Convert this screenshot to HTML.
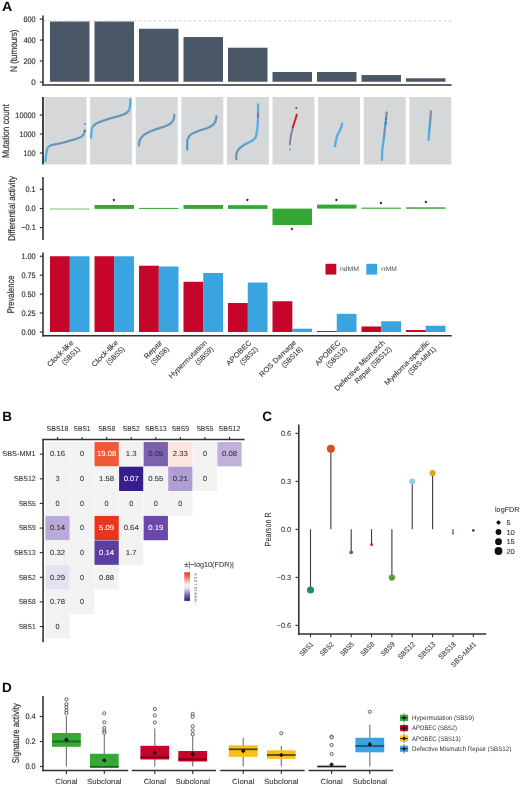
<!DOCTYPE html>
<html lang="en">
<head>
<meta charset="utf-8">
<title>Figure: mutational signatures</title>
<style>
html,body{margin:0;padding:0;background:#ffffff;}
body{width:520px;height:786px;overflow:hidden;}
svg{display:block;}
svg text{font-family:"Liberation Sans",sans-serif;}
</style>
</head>
<body>
<svg width="520" height="786" viewBox="0 0 520 786" text-rendering="geometricPrecision">
<rect x="0" y="0" width="520" height="786" fill="#ffffff"/>
<g fill="#333333">
<g id="panelA">
<text x="2.00" y="11.10" font-size="13.5" textLength="10.3" lengthAdjust="spacingAndGlyphs" fill="#0a0a0a" font-weight="bold">A</text>
<rect x="50.00" y="21.48" width="39.50" height="60.27" fill="#495767"/>
<rect x="94.50" y="21.48" width="39.50" height="60.27" fill="#495767"/>
<rect x="139.00" y="28.73" width="39.50" height="53.02" fill="#495767"/>
<rect x="183.50" y="37.02" width="39.50" height="44.73" fill="#495767"/>
<rect x="228.00" y="47.73" width="39.50" height="34.02" fill="#495767"/>
<rect x="272.50" y="71.98" width="39.50" height="9.76" fill="#495767"/>
<rect x="317.00" y="71.98" width="39.50" height="9.76" fill="#495767"/>
<rect x="361.50" y="75.03" width="39.50" height="6.72" fill="#495767"/>
<rect x="406.00" y="78.28" width="39.50" height="3.46" fill="#495767"/>
<line x1="43.60" y1="20.90" x2="451.50" y2="20.90" stroke="#bfbfbf" stroke-width="0.8" stroke-dasharray="2.6 2.4"/>
<line x1="43.00" y1="15.50" x2="43.00" y2="85.70" stroke="#303030" stroke-width="1.55"/>
<line x1="42.30" y1="85.00" x2="451.70" y2="85.00" stroke="#303030" stroke-width="1.55"/>
<line x1="39.80" y1="19.05" x2="43.00" y2="19.05" stroke="#303030" stroke-width="1.15"/>
<text x="35.70" y="21.61" font-size="8.0" text-anchor="end" textLength="12.21" lengthAdjust="spacingAndGlyphs" stroke="#333333" stroke-width="0.18">600</text>
<line x1="39.80" y1="40.05" x2="43.00" y2="40.05" stroke="#303030" stroke-width="1.15"/>
<text x="35.70" y="42.61" font-size="8.0" text-anchor="end" textLength="12.21" lengthAdjust="spacingAndGlyphs" stroke="#333333" stroke-width="0.18">400</text>
<line x1="39.80" y1="61.05" x2="43.00" y2="61.05" stroke="#303030" stroke-width="1.15"/>
<text x="35.70" y="63.61" font-size="8.0" text-anchor="end" textLength="12.21" lengthAdjust="spacingAndGlyphs" stroke="#333333" stroke-width="0.18">200</text>
<line x1="39.80" y1="82.05" x2="43.00" y2="82.05" stroke="#303030" stroke-width="1.15"/>
<text x="35.70" y="84.61" font-size="8.0" text-anchor="end" stroke="#333333" stroke-width="0.18">0</text>
<text transform="translate(13.80 50.70) rotate(-90)" x="0" y="3.47" font-size="9.7" text-anchor="middle" textLength="42.40" lengthAdjust="spacingAndGlyphs" stroke="#333333" stroke-width="0.18">N (tumours)</text>
<rect x="44.50" y="97.00" width="42.00" height="67.50" fill="#d5d7d8"/>
<rect x="90.10" y="97.00" width="42.00" height="67.50" fill="#d5d7d8"/>
<rect x="135.70" y="97.00" width="42.00" height="67.50" fill="#d5d7d8"/>
<rect x="181.30" y="97.00" width="42.00" height="67.50" fill="#d5d7d8"/>
<rect x="226.90" y="97.00" width="42.00" height="67.50" fill="#d5d7d8"/>
<rect x="272.50" y="97.00" width="42.00" height="67.50" fill="#d5d7d8"/>
<rect x="318.10" y="97.00" width="42.00" height="67.50" fill="#d5d7d8"/>
<rect x="363.70" y="97.00" width="42.00" height="67.50" fill="#d5d7d8"/>
<rect x="409.30" y="97.00" width="42.00" height="67.50" fill="#d5d7d8"/>
<path fill="none" stroke="#50afe6" stroke-width="2.3" stroke-linecap="round" stroke-linejoin="round" d="M45.4 161.2 C45.5 159.9 45.8 155.7 46.2 153.5 C46.6 151.3 47.0 149.1 47.7 147.8 C48.4 146.5 48.7 146.2 50.6 145.5 C52.5 144.8 56.2 144.2 59.2 143.5 C62.2 142.8 65.6 141.9 68.8 141.0 C72.0 140.1 76.2 139.1 78.5 138.2 C80.8 137.3 81.8 136.7 82.7 135.8 C83.7 134.9 83.9 133.7 84.2 132.8 C84.5 131.9 84.7 130.9 84.8 130.5"/>
<path fill="none" stroke="#50afe6" stroke-width="2.3" stroke-linecap="round" stroke-linejoin="round" d="M91.3 137.8 C91.3 136.6 91.2 132.4 91.5 130.5 C91.8 128.6 91.9 127.9 92.9 126.6 C93.9 125.3 95.3 124.0 97.7 122.8 C100.1 121.6 104.1 120.3 107.3 119.3 C110.5 118.3 114.0 117.5 116.9 116.6 C119.8 115.7 122.7 115.0 124.6 114.1 C126.5 113.2 127.6 112.5 128.5 111.2 C129.4 109.9 129.7 108.3 130.0 106.4 C130.3 104.5 130.3 100.8 130.4 99.7"/>
<path fill="none" stroke="#50afe6" stroke-width="2.3" stroke-linecap="round" stroke-linejoin="round" d="M139.0 145.5 C139.0 145.0 138.8 143.8 139.2 142.4 C139.6 141.0 140.2 138.8 141.5 137.2 C142.8 135.6 144.7 134.2 147.3 132.8 C149.9 131.4 153.7 130.1 156.9 128.9 C160.1 127.7 164.1 126.7 166.5 125.7 C168.9 124.7 170.1 123.9 171.3 122.8 C172.5 121.7 173.3 120.2 173.8 118.9 C174.3 117.6 174.1 115.4 174.2 114.7"/>
<path fill="none" stroke="#50afe6" stroke-width="2.3" stroke-linecap="round" stroke-linejoin="round" d="M187.3 149.7 C187.3 148.7 187.2 145.7 187.3 143.9 C187.4 142.1 187.1 140.6 187.7 139.1 C188.2 137.6 189.0 136.0 190.6 134.7 C192.2 133.4 194.6 132.5 197.3 131.4 C200.0 130.3 204.3 129.2 206.9 128.2 C209.5 127.1 211.2 126.3 212.7 125.1 C214.1 123.9 215.0 122.3 215.6 120.8 C216.2 119.3 216.3 116.8 216.5 116.0"/>
<path fill="none" stroke="#50afe6" stroke-width="2.3" stroke-linecap="round" stroke-linejoin="round" d="M236.3 159.3 C236.3 158.3 236.0 155.3 236.5 153.5 C237.0 151.7 237.8 150.2 239.2 148.7 C240.6 147.2 242.9 145.6 245.0 144.3 C247.1 143.0 249.9 142.2 251.7 141.0 C253.5 139.8 254.7 138.9 255.6 137.2 C256.5 135.4 256.7 133.2 257.1 130.5 C257.5 127.8 257.7 125.1 257.9 120.8 C258.1 116.5 258.1 107.2 258.1 104.5"/>
<path fill="none" stroke="#50afe6" stroke-width="2.3" stroke-linecap="round" stroke-linejoin="round" d="M335.0 146.2 C335.2 145.2 335.5 142.0 336.0 140.0 C336.5 138.0 337.1 136.2 337.9 134.3 C338.7 132.4 340.1 130.3 340.8 128.5 C341.5 126.7 341.9 124.5 342.1 123.7"/>
<path fill="none" stroke="#50afe6" stroke-width="2.3" stroke-linecap="round" stroke-linejoin="round" d="M381.9 159.9 C382.0 158.2 382.0 153.3 382.3 149.8 C382.6 146.3 383.4 142.6 383.8 138.9 C384.2 135.2 384.6 131.2 385.0 127.9 C385.4 124.6 385.7 121.4 386.0 118.8 C386.3 116.2 386.6 113.5 386.7 112.4"/>
<path fill="none" stroke="#50afe6" stroke-width="2.3" stroke-linecap="round" stroke-linejoin="round" d="M428.6 139.8 C428.7 138.2 429.0 133.7 429.3 130.5 C429.6 127.3 429.9 124.0 430.2 120.8 C430.5 117.6 430.8 113.0 430.9 111.5"/>
<path fill="none" stroke="#7a8a9e" stroke-width="1.35" stroke-linecap="round" stroke-linejoin="round" opacity="0.95" d="M50.6 145.5 C52.0 145.2 56.2 144.2 59.2 143.5 C62.2 142.8 65.6 141.9 68.8 141.0 C72.0 140.1 76.2 139.1 78.5 138.2 C80.8 137.3 81.8 136.7 82.7 135.8 C83.7 134.9 84.0 133.3 84.2 132.8"/>
<path fill="none" stroke="#7a8a9e" stroke-width="1.35" stroke-linecap="round" stroke-linejoin="round" opacity="0.95" d="M92.9 126.6 C93.7 126.0 95.3 124.0 97.7 122.8 C100.1 121.6 104.1 120.3 107.3 119.3 C110.5 118.3 114.0 117.5 116.9 116.6 C119.8 115.7 122.7 115.0 124.6 114.1 C126.5 113.2 127.8 111.7 128.5 111.2"/>
<path fill="none" stroke="#7a8a9e" stroke-width="1.35" stroke-linecap="round" stroke-linejoin="round" opacity="0.95" d="M139.0 145.5 C139.0 145.0 138.8 143.8 139.2 142.4 C139.6 141.0 140.2 138.8 141.5 137.2 C142.8 135.6 144.7 134.2 147.3 132.8 C149.9 131.4 153.7 130.1 156.9 128.9 C160.1 127.7 164.1 126.7 166.5 125.7 C168.9 124.7 170.1 123.9 171.3 122.8 C172.5 121.7 173.3 120.2 173.8 118.9 C174.3 117.6 174.1 115.4 174.2 114.7"/>
<path fill="none" stroke="#7a8a9e" stroke-width="1.35" stroke-linecap="round" stroke-linejoin="round" opacity="0.95" d="M187.3 149.7 C187.3 148.7 187.2 145.7 187.3 143.9 C187.4 142.1 187.1 140.6 187.7 139.1 C188.2 137.6 189.0 136.0 190.6 134.7 C192.2 133.4 194.6 132.5 197.3 131.4 C200.0 130.3 204.3 129.2 206.9 128.2 C209.5 127.1 211.2 126.3 212.7 125.1 C214.1 123.9 215.0 122.3 215.6 120.8 C216.2 119.3 216.3 116.8 216.5 116.0"/>
<path fill="none" stroke="#7a8a9e" stroke-width="1.35" stroke-linecap="round" stroke-linejoin="round" opacity="0.95" d="M236.3 159.3 C236.3 158.3 236.0 155.3 236.5 153.5 C237.0 151.7 237.8 150.2 239.2 148.7 C240.6 147.2 244.0 145.0 245.0 144.3"/>
<path fill="none" stroke="#7a8a9e" stroke-width="1.35" stroke-linecap="round" stroke-linejoin="round" opacity="0.95" d="M383.8 138.9 C384.0 137.1 384.6 131.2 385.0 127.9 C385.4 124.6 385.7 121.4 386.0 118.8 C386.3 116.2 386.6 113.5 386.7 112.4"/>
<path fill="none" stroke="#7a8a9e" stroke-width="1.35" stroke-linecap="round" stroke-linejoin="round" opacity="0.95" d="M429.3 130.5 C429.4 128.9 429.9 124.0 430.2 120.8 C430.5 117.6 430.8 113.0 430.9 111.5"/>
<path fill="none" stroke="#74809a" stroke-width="1.8" stroke-linecap="round" stroke-linejoin="round" d="M292.6 128.5 C292.4 129.4 291.7 132.2 291.3 134.0 C290.9 135.8 290.6 137.3 290.4 139.0 C290.2 140.7 290.0 143.4 289.9 144.3"/>
<path fill="none" stroke="#c8222c" stroke-width="2.0" stroke-linecap="round" stroke-linejoin="round" d="M296.8 114.6 C296.6 115.3 296.0 117.5 295.5 119.0 C295.0 120.5 294.4 122.1 294.0 123.5 C293.6 124.9 293.0 126.8 292.8 127.5"/>
<circle cx="296.30" cy="108.00" r="1.00" fill="#6a4a5e"/>
<circle cx="289.90" cy="149.60" r="0.85" fill="#6f8fb0"/>
<circle cx="85.00" cy="124.00" r="0.90" fill="#6e7d8e"/>
<circle cx="85.00" cy="127.90" r="0.80" fill="#b9c6e0"/>
<circle cx="85.00" cy="131.00" r="1.00" fill="#9a4878"/>
<circle cx="258.10" cy="114.30" r="0.95" fill="#a5475a"/>
<circle cx="258.10" cy="116.40" r="0.95" fill="#a5475a"/>
<circle cx="386.10" cy="119.00" r="0.95" fill="#a5475a"/>
<circle cx="385.90" cy="123.20" r="0.95" fill="#a5475a"/>
<line x1="43.00" y1="97.00" x2="43.00" y2="164.50" stroke="#303030" stroke-width="1.8"/>
<line x1="39.80" y1="115.00" x2="43.00" y2="115.00" stroke="#303030" stroke-width="1.15"/>
<text x="35.70" y="117.56" font-size="8.0" text-anchor="end" textLength="20.36" lengthAdjust="spacingAndGlyphs" stroke="#333333" stroke-width="0.18">10000</text>
<line x1="39.80" y1="134.00" x2="43.00" y2="134.00" stroke="#303030" stroke-width="1.15"/>
<text x="35.70" y="136.56" font-size="8.0" text-anchor="end" textLength="16.28" lengthAdjust="spacingAndGlyphs" stroke="#333333" stroke-width="0.18">1000</text>
<line x1="39.80" y1="153.00" x2="43.00" y2="153.00" stroke="#303030" stroke-width="1.15"/>
<text x="35.70" y="155.56" font-size="8.0" text-anchor="end" textLength="12.21" lengthAdjust="spacingAndGlyphs" stroke="#333333" stroke-width="0.18">100</text>
<text transform="translate(5.70 131.20) rotate(-90)" x="0" y="3.51" font-size="9.8" text-anchor="middle" textLength="53.80" lengthAdjust="spacingAndGlyphs" stroke="#333333" stroke-width="0.18">Mutation count</text>
<rect x="50.00" y="208.40" width="39.50" height="1.30" fill="#93d08f"/>
<rect x="94.50" y="205.00" width="39.50" height="3.90" fill="#35a735"/>
<rect x="139.00" y="207.90" width="39.50" height="1.10" fill="#45a942"/>
<rect x="183.50" y="205.00" width="39.50" height="3.90" fill="#35a735"/>
<rect x="228.00" y="205.20" width="39.50" height="3.70" fill="#35a735"/>
<rect x="272.50" y="208.60" width="39.50" height="16.40" fill="#35a735"/>
<rect x="317.00" y="204.60" width="39.50" height="4.00" fill="#35a735"/>
<rect x="361.50" y="207.60" width="39.50" height="1.30" fill="#56b052"/>
<rect x="406.00" y="207.30" width="39.50" height="1.50" fill="#3fa83b"/>
<text x="114.00" y="202.58" font-size="5.8" text-anchor="middle" fill="#141414" stroke="#141414" stroke-width="0.3">*</text>
<text x="247.50" y="202.58" font-size="5.8" text-anchor="middle" fill="#141414" stroke="#141414" stroke-width="0.3">*</text>
<text x="292.00" y="231.98" font-size="5.8" text-anchor="middle" fill="#141414" stroke="#141414" stroke-width="0.3">*</text>
<text x="336.50" y="202.78" font-size="5.8" text-anchor="middle" fill="#141414" stroke="#141414" stroke-width="0.3">*</text>
<text x="381.00" y="205.78" font-size="5.8" text-anchor="middle" fill="#141414" stroke="#141414" stroke-width="0.3">*</text>
<text x="425.80" y="204.98" font-size="5.8" text-anchor="middle" fill="#141414" stroke="#141414" stroke-width="0.3">*</text>
<line x1="43.00" y1="177.00" x2="43.00" y2="240.00" stroke="#303030" stroke-width="1.55"/>
<line x1="39.80" y1="189.30" x2="43.00" y2="189.30" stroke="#303030" stroke-width="1.15"/>
<text x="35.70" y="191.86" font-size="8.0" text-anchor="end" textLength="10.18" lengthAdjust="spacingAndGlyphs" stroke="#333333" stroke-width="0.18">0.1</text>
<line x1="39.80" y1="208.50" x2="43.00" y2="208.50" stroke="#303030" stroke-width="1.15"/>
<text x="35.70" y="211.06" font-size="8.0" text-anchor="end" textLength="10.18" lengthAdjust="spacingAndGlyphs" stroke="#333333" stroke-width="0.18">0.0</text>
<line x1="39.80" y1="227.60" x2="43.00" y2="227.60" stroke="#303030" stroke-width="1.15"/>
<text x="35.70" y="230.16" font-size="8.0" text-anchor="end" textLength="14.45" lengthAdjust="spacingAndGlyphs" stroke="#333333" stroke-width="0.18">−0.1</text>
<text transform="translate(11.80 208.60) rotate(-90)" x="0" y="3.47" font-size="9.7" text-anchor="middle" textLength="65.00" lengthAdjust="spacingAndGlyphs" stroke="#333333" stroke-width="0.18">Differential activity</text>
<rect x="50.00" y="256.25" width="19.85" height="75.75" fill="#c50529"/>
<rect x="69.75" y="256.25" width="19.75" height="75.75" fill="#39a4e0"/>
<rect x="94.50" y="256.25" width="19.85" height="75.75" fill="#c50529"/>
<rect x="114.25" y="256.25" width="19.75" height="75.75" fill="#39a4e0"/>
<rect x="139.00" y="265.72" width="19.85" height="66.28" fill="#c50529"/>
<rect x="158.75" y="266.48" width="19.75" height="65.52" fill="#39a4e0"/>
<rect x="183.50" y="281.78" width="19.85" height="50.22" fill="#c50529"/>
<rect x="203.25" y="272.99" width="19.75" height="59.01" fill="#39a4e0"/>
<rect x="228.00" y="302.99" width="19.85" height="29.01" fill="#c50529"/>
<rect x="247.75" y="282.54" width="19.75" height="49.46" fill="#39a4e0"/>
<rect x="272.50" y="301.25" width="19.85" height="30.75" fill="#c50529"/>
<rect x="292.25" y="328.74" width="19.75" height="3.26" fill="#39a4e0"/>
<rect x="317.00" y="331.02" width="19.85" height="0.98" fill="#c50529"/>
<rect x="336.75" y="313.82" width="19.75" height="18.18" fill="#39a4e0"/>
<rect x="361.50" y="326.47" width="19.85" height="5.53" fill="#c50529"/>
<rect x="381.25" y="321.24" width="19.75" height="10.76" fill="#39a4e0"/>
<rect x="406.00" y="330.03" width="19.85" height="1.97" fill="#c50529"/>
<rect x="425.75" y="325.71" width="19.75" height="6.29" fill="#39a4e0"/>
<line x1="43.00" y1="252.50" x2="43.00" y2="336.50" stroke="#303030" stroke-width="1.55"/>
<line x1="42.30" y1="335.80" x2="451.70" y2="335.80" stroke="#303030" stroke-width="1.55"/>
<line x1="39.80" y1="256.25" x2="43.00" y2="256.25" stroke="#303030" stroke-width="1.15"/>
<text x="35.70" y="258.81" font-size="8.0" text-anchor="end" textLength="14.25" lengthAdjust="spacingAndGlyphs" stroke="#333333" stroke-width="0.18">1.00</text>
<line x1="39.80" y1="275.19" x2="43.00" y2="275.19" stroke="#303030" stroke-width="1.15"/>
<text x="35.70" y="277.75" font-size="8.0" text-anchor="end" textLength="14.25" lengthAdjust="spacingAndGlyphs" stroke="#333333" stroke-width="0.18">0.75</text>
<line x1="39.80" y1="294.12" x2="43.00" y2="294.12" stroke="#303030" stroke-width="1.15"/>
<text x="35.70" y="296.69" font-size="8.0" text-anchor="end" textLength="14.25" lengthAdjust="spacingAndGlyphs" stroke="#333333" stroke-width="0.18">0.50</text>
<line x1="39.80" y1="313.06" x2="43.00" y2="313.06" stroke="#303030" stroke-width="1.15"/>
<text x="35.70" y="315.63" font-size="8.0" text-anchor="end" textLength="14.25" lengthAdjust="spacingAndGlyphs" stroke="#333333" stroke-width="0.18">0.25</text>
<line x1="39.80" y1="332.00" x2="43.00" y2="332.00" stroke="#303030" stroke-width="1.15"/>
<text x="35.70" y="334.56" font-size="8.0" text-anchor="end" textLength="14.25" lengthAdjust="spacingAndGlyphs" stroke="#333333" stroke-width="0.18">0.00</text>
<text transform="translate(10.80 294.40) rotate(-90)" x="0" y="3.47" font-size="9.7" text-anchor="middle" textLength="37.80" lengthAdjust="spacingAndGlyphs" stroke="#333333" stroke-width="0.18">Prevalence</text>
<rect x="325.50" y="263.80" width="10.80" height="10.80" fill="#c50529"/>
<text x="340.00" y="271.49" font-size="6.4" textLength="19.00" lengthAdjust="spacingAndGlyphs" fill="#4d4d4d">ndMM</text>
<rect x="366.30" y="263.80" width="10.80" height="10.80" fill="#39a4e0"/>
<text x="381.20" y="271.49" font-size="6.4" textLength="15.60" lengthAdjust="spacingAndGlyphs" fill="#4d4d4d">rrMM</text>
<g transform="translate(73.95 343.20) rotate(-45)" font-size="7.3" text-anchor="end"><text x="0" y="0" textLength="33.85" lengthAdjust="spacingAndGlyphs" stroke="#333333" stroke-width="0.07">Clock-like</text><text x="0" y="9.0" textLength="22.35" lengthAdjust="spacingAndGlyphs" stroke="#333333" stroke-width="0.07">(SBS1)</text></g>
<g transform="translate(118.45 343.20) rotate(-45)" font-size="7.3" text-anchor="end"><text x="0" y="0" textLength="33.85" lengthAdjust="spacingAndGlyphs" stroke="#333333" stroke-width="0.07">Clock-like</text><text x="0" y="9.0" textLength="22.35" lengthAdjust="spacingAndGlyphs" stroke="#333333" stroke-width="0.07">(SBS5)</text></g>
<g transform="translate(162.95 343.20) rotate(-45)" font-size="7.3" text-anchor="end"><text x="0" y="0" textLength="23.01" lengthAdjust="spacingAndGlyphs" stroke="#333333" stroke-width="0.07">Repair</text><text x="0" y="9.0" textLength="22.35" lengthAdjust="spacingAndGlyphs" stroke="#333333" stroke-width="0.07">(SBS8)</text></g>
<g transform="translate(207.45 343.20) rotate(-45)" font-size="7.3" text-anchor="end"><text x="0" y="0" textLength="50.80" lengthAdjust="spacingAndGlyphs" stroke="#333333" stroke-width="0.07">Hypermutation</text><text x="0" y="9.0" textLength="22.35" lengthAdjust="spacingAndGlyphs" stroke="#333333" stroke-width="0.07">(SBS9)</text></g>
<g transform="translate(251.95 343.20) rotate(-45)" font-size="7.3" text-anchor="end"><text x="0" y="0" textLength="32.56" lengthAdjust="spacingAndGlyphs" stroke="#333333" stroke-width="0.07">APOBEC</text><text x="0" y="9.0" textLength="22.35" lengthAdjust="spacingAndGlyphs" stroke="#333333" stroke-width="0.07">(SBS2)</text></g>
<g transform="translate(296.45 343.20) rotate(-45)" font-size="7.3" text-anchor="end"><text x="0" y="0" textLength="48.62" lengthAdjust="spacingAndGlyphs" stroke="#333333" stroke-width="0.07">ROS Damage</text><text x="0" y="9.0" textLength="26.21" lengthAdjust="spacingAndGlyphs" stroke="#333333" stroke-width="0.07">(SBS18)</text></g>
<g transform="translate(340.95 343.20) rotate(-45)" font-size="7.3" text-anchor="end"><text x="0" y="0" textLength="32.56" lengthAdjust="spacingAndGlyphs" stroke="#333333" stroke-width="0.07">APOBEC</text><text x="0" y="9.0" textLength="26.21" lengthAdjust="spacingAndGlyphs" stroke="#333333" stroke-width="0.07">(SBS13)</text></g>
<g transform="translate(385.45 343.20) rotate(-45)" font-size="7.3" text-anchor="end"><text x="0" y="0" textLength="68.15" lengthAdjust="spacingAndGlyphs" stroke="#333333" stroke-width="0.07">Defective Mismatch</text><text x="0" y="9.0" textLength="48.57" lengthAdjust="spacingAndGlyphs" stroke="#333333" stroke-width="0.07">Repair (SBS12)</text></g>
<g transform="translate(429.95 343.20) rotate(-45)" font-size="7.3" text-anchor="end"><text x="0" y="0" textLength="60.34" lengthAdjust="spacingAndGlyphs" stroke="#333333" stroke-width="0.07">Myeloma-specific</text><text x="0" y="9.0" textLength="36.22" lengthAdjust="spacingAndGlyphs" stroke="#333333" stroke-width="0.07">(SBS-MM1)</text></g>
</g>
<g id="panelB">
<text x="2.20" y="420.90" font-size="13.5" fill="#0a0a0a" font-weight="bold">B</text>
<rect x="45.37" y="442.04" width="24.27" height="24.32" fill="#f2f2f2"/>
<rect x="69.94" y="442.04" width="24.27" height="24.32" fill="#f2f2f2"/>
<rect x="94.51" y="442.04" width="24.27" height="24.32" fill="#ee5a35"/>
<rect x="119.08" y="442.04" width="24.27" height="24.32" fill="#f2f2f2"/>
<rect x="143.65" y="442.04" width="24.27" height="24.32" fill="#7b61b0"/>
<rect x="168.22" y="442.04" width="24.27" height="24.32" fill="#fce5de"/>
<rect x="192.79" y="442.04" width="24.27" height="24.32" fill="#f2f2f2"/>
<rect x="217.36" y="442.04" width="24.27" height="24.32" fill="#c0b1dc"/>
<rect x="45.37" y="466.66" width="24.27" height="24.32" fill="#f2f2f2"/>
<rect x="69.94" y="466.66" width="24.27" height="24.32" fill="#f2f2f2"/>
<rect x="94.51" y="466.66" width="24.27" height="24.32" fill="#f2f2f2"/>
<rect x="119.08" y="466.66" width="24.27" height="24.32" fill="#381e8d"/>
<rect x="143.65" y="466.66" width="24.27" height="24.32" fill="#f2f2f2"/>
<rect x="168.22" y="466.66" width="24.27" height="24.32" fill="#b09dd2"/>
<rect x="192.79" y="466.66" width="24.27" height="24.32" fill="#f2f2f2"/>
<rect x="45.37" y="491.28" width="24.27" height="24.32" fill="#f2f2f2"/>
<rect x="69.94" y="491.28" width="24.27" height="24.32" fill="#f2f2f2"/>
<rect x="94.51" y="491.28" width="24.27" height="24.32" fill="#f2f2f2"/>
<rect x="119.08" y="491.28" width="24.27" height="24.32" fill="#f2f2f2"/>
<rect x="143.65" y="491.28" width="24.27" height="24.32" fill="#f2f2f2"/>
<rect x="168.22" y="491.28" width="24.27" height="24.32" fill="#f2f2f2"/>
<rect x="45.37" y="515.90" width="24.27" height="24.32" fill="#b9aad9"/>
<rect x="69.94" y="515.90" width="24.27" height="24.32" fill="#f2f2f2"/>
<rect x="94.51" y="515.90" width="24.27" height="24.32" fill="#e8351d"/>
<rect x="119.08" y="515.90" width="24.27" height="24.32" fill="#f2f2f2"/>
<rect x="143.65" y="515.90" width="24.27" height="24.32" fill="#6a47a9"/>
<rect x="45.37" y="540.52" width="24.27" height="24.32" fill="#f2f2f2"/>
<rect x="69.94" y="540.52" width="24.27" height="24.32" fill="#f2f2f2"/>
<rect x="94.51" y="540.52" width="24.27" height="24.32" fill="#5c3ea0"/>
<rect x="119.08" y="540.52" width="24.27" height="24.32" fill="#f2f2f2"/>
<rect x="45.37" y="565.14" width="24.27" height="24.32" fill="#e5e0f2"/>
<rect x="69.94" y="565.14" width="24.27" height="24.32" fill="#f2f2f2"/>
<rect x="94.51" y="565.14" width="24.27" height="24.32" fill="#f2f2f2"/>
<rect x="45.37" y="589.76" width="24.27" height="24.32" fill="#f2f2f2"/>
<rect x="69.94" y="589.76" width="24.27" height="24.32" fill="#f2f2f2"/>
<rect x="45.37" y="614.38" width="24.27" height="24.32" fill="#f2f2f2"/>
<text x="57.50" y="456.41" font-size="7.3" text-anchor="middle" textLength="15.06" lengthAdjust="spacingAndGlyphs" stroke="#333333" stroke-width="0.07">0.16</text>
<text x="82.07" y="456.41" font-size="7.3" text-anchor="middle" stroke="#333333" stroke-width="0.07">0</text>
<text x="106.64" y="456.41" font-size="7.3" text-anchor="middle" textLength="19.36" lengthAdjust="spacingAndGlyphs" fill="#ffffff" stroke="#ffffff" stroke-width="0.07">19.08</text>
<text x="131.21" y="456.41" font-size="7.3" text-anchor="middle" textLength="10.76" lengthAdjust="spacingAndGlyphs" stroke="#333333" stroke-width="0.07">1.3</text>
<text x="155.78" y="456.41" font-size="7.3" text-anchor="middle" textLength="15.06" lengthAdjust="spacingAndGlyphs" stroke="#333333" stroke-width="0.07">0.05</text>
<text x="180.35" y="456.41" font-size="7.3" text-anchor="middle" textLength="15.06" lengthAdjust="spacingAndGlyphs" stroke="#333333" stroke-width="0.07">2.33</text>
<text x="204.92" y="456.41" font-size="7.3" text-anchor="middle" stroke="#333333" stroke-width="0.07">0</text>
<text x="229.49" y="456.41" font-size="7.3" text-anchor="middle" textLength="15.06" lengthAdjust="spacingAndGlyphs" stroke="#333333" stroke-width="0.07">0.08</text>
<text x="57.50" y="481.03" font-size="7.3" text-anchor="middle" stroke="#333333" stroke-width="0.07">3</text>
<text x="82.07" y="481.03" font-size="7.3" text-anchor="middle" stroke="#333333" stroke-width="0.07">0</text>
<text x="106.64" y="481.03" font-size="7.3" text-anchor="middle" textLength="15.06" lengthAdjust="spacingAndGlyphs" stroke="#333333" stroke-width="0.07">1.58</text>
<text x="131.21" y="481.03" font-size="7.3" text-anchor="middle" textLength="15.06" lengthAdjust="spacingAndGlyphs" fill="#ffffff" stroke="#ffffff" stroke-width="0.07">0.07</text>
<text x="155.78" y="481.03" font-size="7.3" text-anchor="middle" textLength="15.06" lengthAdjust="spacingAndGlyphs" stroke="#333333" stroke-width="0.07">0.55</text>
<text x="180.35" y="481.03" font-size="7.3" text-anchor="middle" textLength="15.06" lengthAdjust="spacingAndGlyphs" stroke="#333333" stroke-width="0.07">0.21</text>
<text x="204.92" y="481.03" font-size="7.3" text-anchor="middle" stroke="#333333" stroke-width="0.07">0</text>
<text x="57.50" y="505.65" font-size="7.3" text-anchor="middle" stroke="#333333" stroke-width="0.07">0</text>
<text x="82.07" y="505.65" font-size="7.3" text-anchor="middle" stroke="#333333" stroke-width="0.07">0</text>
<text x="106.64" y="505.65" font-size="7.3" text-anchor="middle" stroke="#333333" stroke-width="0.07">0</text>
<text x="131.21" y="505.65" font-size="7.3" text-anchor="middle" stroke="#333333" stroke-width="0.07">0</text>
<text x="155.78" y="505.65" font-size="7.3" text-anchor="middle" stroke="#333333" stroke-width="0.07">0</text>
<text x="180.35" y="505.65" font-size="7.3" text-anchor="middle" stroke="#333333" stroke-width="0.07">0</text>
<text x="57.50" y="530.27" font-size="7.3" text-anchor="middle" textLength="15.06" lengthAdjust="spacingAndGlyphs" stroke="#333333" stroke-width="0.07">0.14</text>
<text x="82.07" y="530.27" font-size="7.3" text-anchor="middle" stroke="#333333" stroke-width="0.07">0</text>
<text x="106.64" y="530.27" font-size="7.3" text-anchor="middle" textLength="15.06" lengthAdjust="spacingAndGlyphs" fill="#ffffff" stroke="#ffffff" stroke-width="0.07">5.09</text>
<text x="131.21" y="530.27" font-size="7.3" text-anchor="middle" textLength="15.06" lengthAdjust="spacingAndGlyphs" stroke="#333333" stroke-width="0.07">0.64</text>
<text x="155.78" y="530.27" font-size="7.3" text-anchor="middle" textLength="15.06" lengthAdjust="spacingAndGlyphs" fill="#ffffff" stroke="#ffffff" stroke-width="0.07">0.19</text>
<text x="57.50" y="554.89" font-size="7.3" text-anchor="middle" textLength="15.06" lengthAdjust="spacingAndGlyphs" stroke="#333333" stroke-width="0.07">0.32</text>
<text x="82.07" y="554.89" font-size="7.3" text-anchor="middle" stroke="#333333" stroke-width="0.07">0</text>
<text x="106.64" y="554.89" font-size="7.3" text-anchor="middle" textLength="15.06" lengthAdjust="spacingAndGlyphs" fill="#ffffff" stroke="#ffffff" stroke-width="0.07">0.14</text>
<text x="131.21" y="554.89" font-size="7.3" text-anchor="middle" textLength="10.76" lengthAdjust="spacingAndGlyphs" stroke="#333333" stroke-width="0.07">1.7</text>
<text x="57.50" y="579.51" font-size="7.3" text-anchor="middle" textLength="15.06" lengthAdjust="spacingAndGlyphs" stroke="#333333" stroke-width="0.07">0.29</text>
<text x="82.07" y="579.51" font-size="7.3" text-anchor="middle" stroke="#333333" stroke-width="0.07">0</text>
<text x="106.64" y="579.51" font-size="7.3" text-anchor="middle" textLength="15.06" lengthAdjust="spacingAndGlyphs" stroke="#333333" stroke-width="0.07">0.88</text>
<text x="57.50" y="604.13" font-size="7.3" text-anchor="middle" textLength="15.06" lengthAdjust="spacingAndGlyphs" stroke="#333333" stroke-width="0.07">0.78</text>
<text x="82.07" y="604.13" font-size="7.3" text-anchor="middle" stroke="#333333" stroke-width="0.07">0</text>
<text x="57.50" y="628.75" font-size="7.3" text-anchor="middle" stroke="#333333" stroke-width="0.07">0</text>
<line x1="42.40" y1="439.50" x2="244.60" y2="439.50" stroke="#303030" stroke-width="1.55"/>
<line x1="43.10" y1="439.00" x2="43.10" y2="642.20" stroke="#303030" stroke-width="1.55"/>
<line x1="57.50" y1="437.00" x2="57.50" y2="439.50" stroke="#303030" stroke-width="1.1"/>
<text x="57.50" y="431.01" font-size="7.3" text-anchor="middle" textLength="21.80" lengthAdjust="spacingAndGlyphs" stroke="#333333" stroke-width="0.07">SBS18</text>
<line x1="82.07" y1="437.00" x2="82.07" y2="439.50" stroke="#303030" stroke-width="1.1"/>
<text x="82.07" y="431.01" font-size="7.3" text-anchor="middle" textLength="17.00" lengthAdjust="spacingAndGlyphs" stroke="#333333" stroke-width="0.07">SBS1</text>
<line x1="106.64" y1="437.00" x2="106.64" y2="439.50" stroke="#303030" stroke-width="1.1"/>
<text x="106.64" y="431.01" font-size="7.3" text-anchor="middle" textLength="17.00" lengthAdjust="spacingAndGlyphs" stroke="#333333" stroke-width="0.07">SBS8</text>
<line x1="131.21" y1="437.00" x2="131.21" y2="439.50" stroke="#303030" stroke-width="1.1"/>
<text x="131.21" y="431.01" font-size="7.3" text-anchor="middle" textLength="17.00" lengthAdjust="spacingAndGlyphs" stroke="#333333" stroke-width="0.07">SBS2</text>
<line x1="155.78" y1="437.00" x2="155.78" y2="439.50" stroke="#303030" stroke-width="1.1"/>
<text x="155.78" y="431.01" font-size="7.3" text-anchor="middle" textLength="21.80" lengthAdjust="spacingAndGlyphs" stroke="#333333" stroke-width="0.07">SBS13</text>
<line x1="180.35" y1="437.00" x2="180.35" y2="439.50" stroke="#303030" stroke-width="1.1"/>
<text x="180.35" y="431.01" font-size="7.3" text-anchor="middle" textLength="17.00" lengthAdjust="spacingAndGlyphs" stroke="#333333" stroke-width="0.07">SBS9</text>
<line x1="204.92" y1="437.00" x2="204.92" y2="439.50" stroke="#303030" stroke-width="1.1"/>
<text x="204.92" y="431.01" font-size="7.3" text-anchor="middle" textLength="17.00" lengthAdjust="spacingAndGlyphs" stroke="#333333" stroke-width="0.07">SBS5</text>
<line x1="229.49" y1="437.00" x2="229.49" y2="439.50" stroke="#303030" stroke-width="1.1"/>
<text x="229.49" y="431.01" font-size="7.3" text-anchor="middle" textLength="21.80" lengthAdjust="spacingAndGlyphs" stroke="#333333" stroke-width="0.07">SBS12</text>
<line x1="39.80" y1="454.20" x2="43.10" y2="454.20" stroke="#303030" stroke-width="1.1"/>
<text x="35.70" y="456.41" font-size="7.3" text-anchor="end" textLength="33.40" lengthAdjust="spacingAndGlyphs" stroke="#333333" stroke-width="0.07">SBS-MM1</text>
<line x1="39.80" y1="478.82" x2="43.10" y2="478.82" stroke="#303030" stroke-width="1.1"/>
<text x="35.70" y="481.03" font-size="7.3" text-anchor="end" textLength="21.80" lengthAdjust="spacingAndGlyphs" stroke="#333333" stroke-width="0.07">SBS12</text>
<line x1="39.80" y1="503.44" x2="43.10" y2="503.44" stroke="#303030" stroke-width="1.1"/>
<text x="35.70" y="505.65" font-size="7.3" text-anchor="end" textLength="17.00" lengthAdjust="spacingAndGlyphs" stroke="#333333" stroke-width="0.07">SBS5</text>
<line x1="39.80" y1="528.06" x2="43.10" y2="528.06" stroke="#303030" stroke-width="1.1"/>
<text x="35.70" y="530.27" font-size="7.3" text-anchor="end" textLength="17.00" lengthAdjust="spacingAndGlyphs" stroke="#333333" stroke-width="0.07">SBS9</text>
<line x1="39.80" y1="552.68" x2="43.10" y2="552.68" stroke="#303030" stroke-width="1.1"/>
<text x="35.70" y="554.89" font-size="7.3" text-anchor="end" textLength="21.80" lengthAdjust="spacingAndGlyphs" stroke="#333333" stroke-width="0.07">SBS13</text>
<line x1="39.80" y1="577.30" x2="43.10" y2="577.30" stroke="#303030" stroke-width="1.1"/>
<text x="35.70" y="579.51" font-size="7.3" text-anchor="end" textLength="17.00" lengthAdjust="spacingAndGlyphs" stroke="#333333" stroke-width="0.07">SBS2</text>
<line x1="39.80" y1="601.92" x2="43.10" y2="601.92" stroke="#303030" stroke-width="1.1"/>
<text x="35.70" y="604.13" font-size="7.3" text-anchor="end" textLength="17.00" lengthAdjust="spacingAndGlyphs" stroke="#333333" stroke-width="0.07">SBS8</text>
<line x1="39.80" y1="626.54" x2="43.10" y2="626.54" stroke="#303030" stroke-width="1.1"/>
<text x="35.70" y="628.75" font-size="7.3" text-anchor="end" textLength="17.00" lengthAdjust="spacingAndGlyphs" stroke="#333333" stroke-width="0.07">SBS1</text>
<text x="184.20" y="567.08" font-size="7.2" textLength="49.60" lengthAdjust="spacingAndGlyphs" stroke="#333333" stroke-width="0.07">±|−log10(FDR)|</text>
<defs><linearGradient id="hb" x1="0" y1="0" x2="0" y2="1"><stop offset="0" stop-color="#e8351d"/><stop offset="0.18" stop-color="#f4785a"/><stop offset="0.42" stop-color="#fbeeea"/><stop offset="0.55" stop-color="#ece8f4"/><stop offset="0.78" stop-color="#8468b8"/><stop offset="1" stop-color="#2f1a80"/></linearGradient></defs>
<rect x="184.30" y="572.30" width="5.70" height="28.60" fill="url(#hb)"/>
<text transform="translate(195.80 574.40) rotate(-90)" x="0" y="1.43" font-size="4.0" text-anchor="middle" fill="#484848">4</text>
<text transform="translate(195.80 577.80) rotate(-90)" x="0" y="1.43" font-size="4.0" text-anchor="middle" fill="#484848">3</text>
<text transform="translate(195.80 581.20) rotate(-90)" x="0" y="1.43" font-size="4.0" text-anchor="middle" fill="#484848">2</text>
<text transform="translate(195.80 584.60) rotate(-90)" x="0" y="1.43" font-size="4.0" text-anchor="middle" fill="#484848">1</text>
<text transform="translate(195.80 588.00) rotate(-90)" x="0" y="1.43" font-size="4.0" text-anchor="middle" fill="#484848">0</text>
<text transform="translate(195.80 591.40) rotate(-90)" x="0" y="1.43" font-size="4.0" text-anchor="middle" fill="#484848">−1</text>
<text transform="translate(195.80 594.80) rotate(-90)" x="0" y="1.43" font-size="4.0" text-anchor="middle" fill="#484848">−2</text>
<text transform="translate(195.80 598.20) rotate(-90)" x="0" y="1.43" font-size="4.0" text-anchor="middle" fill="#484848">−3</text>
<text transform="translate(195.80 601.60) rotate(-90)" x="0" y="1.43" font-size="4.0" text-anchor="middle" fill="#484848">−4</text>
</g>
<g id="panelC">
<text x="262.30" y="421.00" font-size="13.5" fill="#0a0a0a" font-weight="bold">C</text>
<line x1="310.50" y1="529.30" x2="310.50" y2="590.10" stroke="#3c3c3c" stroke-width="1.1"/>
<circle cx="310.50" cy="590.10" r="3.50" fill="#1d8d6c"/>
<line x1="330.85" y1="529.30" x2="330.85" y2="448.82" stroke="#3c3c3c" stroke-width="1.1"/>
<circle cx="330.85" cy="448.82" r="4.00" fill="#d5531a"/>
<line x1="351.20" y1="529.30" x2="351.20" y2="552.34" stroke="#3c3c3c" stroke-width="1.1"/>
<circle cx="351.20" cy="552.34" r="1.90" fill="#5a5da5"/>
<line x1="371.55" y1="529.30" x2="371.55" y2="544.66" stroke="#3c3c3c" stroke-width="1.1"/>
<circle cx="371.55" cy="544.66" r="1.40" fill="#dd1239"/>
<line x1="391.90" y1="529.30" x2="391.90" y2="577.62" stroke="#3c3c3c" stroke-width="1.1"/>
<circle cx="391.90" cy="577.62" r="3.10" fill="#539f2c"/>
<line x1="412.25" y1="529.30" x2="412.25" y2="481.62" stroke="#3c3c3c" stroke-width="1.1"/>
<circle cx="412.25" cy="481.62" r="3.10" fill="#8fcfe1"/>
<line x1="432.60" y1="529.30" x2="432.60" y2="472.98" stroke="#3c3c3c" stroke-width="1.1"/>
<circle cx="432.60" cy="472.98" r="3.10" fill="#e5a118"/>
<line x1="452.95" y1="528.90" x2="452.95" y2="533.30" stroke="#5a5558" stroke-width="1.1"/>
<circle cx="452.95" cy="533.30" r="1.35" fill="#9c8389"/>
<circle cx="473.30" cy="530.42" r="1.20" fill="#1a1a1a"/>
<line x1="298.80" y1="424.50" x2="298.80" y2="634.70" stroke="#303030" stroke-width="1.55"/>
<line x1="298.10" y1="634.00" x2="486.30" y2="634.00" stroke="#303030" stroke-width="1.55"/>
<line x1="295.50" y1="433.30" x2="298.80" y2="433.30" stroke="#303030" stroke-width="1.1"/>
<text x="291.20" y="435.95" font-size="7.4" text-anchor="end" textLength="10.29" lengthAdjust="spacingAndGlyphs" stroke="#333333" stroke-width="0.07">0.6</text>
<line x1="295.50" y1="481.30" x2="298.80" y2="481.30" stroke="#303030" stroke-width="1.1"/>
<text x="291.20" y="483.95" font-size="7.4" text-anchor="end" textLength="10.29" lengthAdjust="spacingAndGlyphs" stroke="#333333" stroke-width="0.07">0.3</text>
<line x1="295.50" y1="529.30" x2="298.80" y2="529.30" stroke="#303030" stroke-width="1.1"/>
<text x="291.20" y="531.95" font-size="7.4" text-anchor="end" textLength="10.29" lengthAdjust="spacingAndGlyphs" stroke="#333333" stroke-width="0.07">0.0</text>
<line x1="295.50" y1="577.30" x2="298.80" y2="577.30" stroke="#303030" stroke-width="1.1"/>
<text x="291.20" y="579.95" font-size="7.4" text-anchor="end" textLength="14.61" lengthAdjust="spacingAndGlyphs" stroke="#333333" stroke-width="0.07">−0.3</text>
<line x1="295.50" y1="625.30" x2="298.80" y2="625.30" stroke="#303030" stroke-width="1.1"/>
<text x="291.20" y="627.95" font-size="7.4" text-anchor="end" textLength="14.61" lengthAdjust="spacingAndGlyphs" stroke="#333333" stroke-width="0.07">−0.6</text>
<text transform="translate(268.10 529.40) rotate(-90)" x="0" y="3.19" font-size="8.9" text-anchor="middle" textLength="34.00" lengthAdjust="spacingAndGlyphs" stroke="#333333" stroke-width="0.07">Pearson R</text>
<line x1="310.50" y1="634.00" x2="310.50" y2="637.30" stroke="#303030" stroke-width="1.1"/>
<text transform="translate(312.10 643.00) rotate(-45)" x="0" y="2.5" font-size="7.2" text-anchor="end" textLength="16.49" lengthAdjust="spacingAndGlyphs" stroke="#333333" stroke-width="0.07">SBS1</text>
<line x1="330.85" y1="634.00" x2="330.85" y2="637.30" stroke="#303030" stroke-width="1.1"/>
<text transform="translate(332.45 643.00) rotate(-45)" x="0" y="2.5" font-size="7.2" text-anchor="end" textLength="16.49" lengthAdjust="spacingAndGlyphs" stroke="#333333" stroke-width="0.07">SBS2</text>
<line x1="351.20" y1="634.00" x2="351.20" y2="637.30" stroke="#303030" stroke-width="1.1"/>
<text transform="translate(352.80 643.00) rotate(-45)" x="0" y="2.5" font-size="7.2" text-anchor="end" textLength="16.49" lengthAdjust="spacingAndGlyphs" stroke="#333333" stroke-width="0.07">SBS5</text>
<line x1="371.55" y1="634.00" x2="371.55" y2="637.30" stroke="#303030" stroke-width="1.1"/>
<text transform="translate(373.15 643.00) rotate(-45)" x="0" y="2.5" font-size="7.2" text-anchor="end" textLength="16.49" lengthAdjust="spacingAndGlyphs" stroke="#333333" stroke-width="0.07">SBS8</text>
<line x1="391.90" y1="634.00" x2="391.90" y2="637.30" stroke="#303030" stroke-width="1.1"/>
<text transform="translate(393.50 643.00) rotate(-45)" x="0" y="2.5" font-size="7.2" text-anchor="end" textLength="16.49" lengthAdjust="spacingAndGlyphs" stroke="#333333" stroke-width="0.07">SBS9</text>
<line x1="412.25" y1="634.00" x2="412.25" y2="637.30" stroke="#303030" stroke-width="1.1"/>
<text transform="translate(413.85 643.00) rotate(-45)" x="0" y="2.5" font-size="7.2" text-anchor="end" textLength="21.15" lengthAdjust="spacingAndGlyphs" stroke="#333333" stroke-width="0.07">SBS12</text>
<line x1="432.60" y1="634.00" x2="432.60" y2="637.30" stroke="#303030" stroke-width="1.1"/>
<text transform="translate(434.20 643.00) rotate(-45)" x="0" y="2.5" font-size="7.2" text-anchor="end" textLength="21.15" lengthAdjust="spacingAndGlyphs" stroke="#333333" stroke-width="0.07">SBS13</text>
<line x1="452.95" y1="634.00" x2="452.95" y2="637.30" stroke="#303030" stroke-width="1.1"/>
<text transform="translate(454.55 643.00) rotate(-45)" x="0" y="2.5" font-size="7.2" text-anchor="end" textLength="21.15" lengthAdjust="spacingAndGlyphs" stroke="#333333" stroke-width="0.07">SBS18</text>
<line x1="473.30" y1="634.00" x2="473.30" y2="637.30" stroke="#303030" stroke-width="1.1"/>
<text transform="translate(474.90 643.00) rotate(-45)" x="0" y="2.5" font-size="7.2" text-anchor="end" textLength="32.40" lengthAdjust="spacingAndGlyphs" stroke="#333333" stroke-width="0.07">SBS-MM1</text>
<text x="495.00" y="512.18" font-size="7.2" textLength="24.60" lengthAdjust="spacingAndGlyphs" stroke="#333333" stroke-width="0.07">logFDR</text>
<circle cx="498.50" cy="522.60" r="2.00" fill="#111111"/>
<text x="506.40" y="525.18" font-size="7.2" stroke="#333333" stroke-width="0.07">5</text>
<circle cx="498.50" cy="532.00" r="2.90" fill="#111111"/>
<text x="506.40" y="534.58" font-size="7.2" textLength="8.41" lengthAdjust="spacingAndGlyphs" stroke="#333333" stroke-width="0.07">10</text>
<circle cx="498.50" cy="541.70" r="3.40" fill="#111111"/>
<text x="506.40" y="544.28" font-size="7.2" textLength="8.41" lengthAdjust="spacingAndGlyphs" stroke="#333333" stroke-width="0.07">15</text>
<circle cx="498.50" cy="551.00" r="3.90" fill="#111111"/>
<text x="506.40" y="553.58" font-size="7.2" textLength="8.41" lengthAdjust="spacingAndGlyphs" stroke="#333333" stroke-width="0.07">20</text>
</g>
<g id="panelD">
<text x="2.00" y="692.20" font-size="13.5" fill="#0a0a0a" font-weight="bold">D</text>
<line x1="43.00" y1="696.00" x2="43.00" y2="771.20" stroke="#303030" stroke-width="1.55"/>
<line x1="42.30" y1="770.50" x2="128.20" y2="770.50" stroke="#303030" stroke-width="1.55"/>
<line x1="131.80" y1="770.50" x2="216.00" y2="770.50" stroke="#303030" stroke-width="1.55"/>
<line x1="220.20" y1="770.50" x2="304.60" y2="770.50" stroke="#303030" stroke-width="1.55"/>
<line x1="308.60" y1="770.50" x2="393.20" y2="770.50" stroke="#303030" stroke-width="1.55"/>
<line x1="39.80" y1="716.50" x2="43.00" y2="716.50" stroke="#303030" stroke-width="1.15"/>
<text x="35.70" y="719.06" font-size="8.0" text-anchor="end" textLength="10.18" lengthAdjust="spacingAndGlyphs" stroke="#333333" stroke-width="0.18">0.4</text>
<line x1="39.80" y1="741.50" x2="43.00" y2="741.50" stroke="#303030" stroke-width="1.15"/>
<text x="35.70" y="744.06" font-size="8.0" text-anchor="end" textLength="10.18" lengthAdjust="spacingAndGlyphs" stroke="#333333" stroke-width="0.18">0.2</text>
<line x1="39.80" y1="766.50" x2="43.00" y2="766.50" stroke="#303030" stroke-width="1.15"/>
<text x="35.70" y="769.06" font-size="8.0" text-anchor="end" textLength="10.18" lengthAdjust="spacingAndGlyphs" stroke="#333333" stroke-width="0.18">0.0</text>
<text transform="translate(15.60 733.20) rotate(-90)" x="0" y="3.47" font-size="9.7" text-anchor="middle" textLength="60.00" lengthAdjust="spacingAndGlyphs" stroke="#333333" stroke-width="0.18">Signature activity</text>
<line x1="66.40" y1="716.00" x2="66.40" y2="766.50" stroke="#767676" stroke-width="1.15"/>
<rect x="52.03" y="733.00" width="28.75" height="13.80" fill="#36a835"/>
<line x1="52.03" y1="741.50" x2="80.78" y2="741.50" stroke="#1d641d" stroke-width="1.7"/>
<circle cx="66.40" cy="699.30" r="1.6" fill="#ffffff" fill-opacity="0.7" stroke="#333333" stroke-width="0.75"/>
<circle cx="66.40" cy="704.30" r="1.6" fill="#ffffff" fill-opacity="0.7" stroke="#333333" stroke-width="0.75"/>
<circle cx="66.40" cy="707.30" r="1.6" fill="#ffffff" fill-opacity="0.7" stroke="#333333" stroke-width="0.75"/>
<circle cx="66.40" cy="710.30" r="1.6" fill="#ffffff" fill-opacity="0.7" stroke="#333333" stroke-width="0.75"/>
<circle cx="66.40" cy="713.00" r="1.6" fill="#ffffff" fill-opacity="0.7" stroke="#333333" stroke-width="0.75"/>
<path d="M64.10 739.80 L66.40 737.50 L68.70 739.80 L66.40 742.10 Z" fill="#111111"/>
<line x1="104.30" y1="734.80" x2="104.30" y2="766.50" stroke="#767676" stroke-width="1.15"/>
<rect x="89.92" y="753.80" width="28.75" height="13.80" fill="#36a835"/>
<line x1="89.92" y1="766.80" x2="118.67" y2="766.80" stroke="#1d641d" stroke-width="1.7"/>
<circle cx="104.30" cy="713.30" r="1.6" fill="#ffffff" fill-opacity="0.7" stroke="#333333" stroke-width="0.75"/>
<circle cx="104.30" cy="722.30" r="1.6" fill="#ffffff" fill-opacity="0.7" stroke="#333333" stroke-width="0.75"/>
<circle cx="104.30" cy="728.00" r="1.6" fill="#ffffff" fill-opacity="0.7" stroke="#333333" stroke-width="0.75"/>
<circle cx="104.30" cy="731.00" r="1.6" fill="#ffffff" fill-opacity="0.7" stroke="#333333" stroke-width="0.75"/>
<circle cx="104.30" cy="732.80" r="1.6" fill="#ffffff" fill-opacity="0.7" stroke="#333333" stroke-width="0.75"/>
<path d="M102.00 760.30 L104.30 758.00 L106.60 760.30 L104.30 762.60 Z" fill="#111111"/>
<line x1="154.80" y1="728.50" x2="154.80" y2="766.50" stroke="#767676" stroke-width="1.15"/>
<rect x="140.43" y="745.80" width="28.75" height="13.70" fill="#c50529"/>
<line x1="140.43" y1="757.30" x2="169.18" y2="757.30" stroke="#650818" stroke-width="1.7"/>
<circle cx="154.80" cy="709.00" r="1.6" fill="#ffffff" fill-opacity="0.7" stroke="#333333" stroke-width="0.75"/>
<circle cx="154.80" cy="715.50" r="1.6" fill="#ffffff" fill-opacity="0.7" stroke="#333333" stroke-width="0.75"/>
<circle cx="154.80" cy="722.50" r="1.6" fill="#ffffff" fill-opacity="0.7" stroke="#333333" stroke-width="0.75"/>
<path d="M152.50 752.80 L154.80 750.50 L157.10 752.80 L154.80 755.10 Z" fill="#111111"/>
<line x1="192.70" y1="736.00" x2="192.70" y2="766.50" stroke="#767676" stroke-width="1.15"/>
<rect x="178.32" y="751.00" width="28.75" height="10.50" fill="#c50529"/>
<line x1="178.32" y1="759.30" x2="207.07" y2="759.30" stroke="#650818" stroke-width="1.7"/>
<circle cx="192.70" cy="714.00" r="1.6" fill="#ffffff" fill-opacity="0.7" stroke="#333333" stroke-width="0.75"/>
<circle cx="192.70" cy="716.80" r="1.6" fill="#ffffff" fill-opacity="0.7" stroke="#333333" stroke-width="0.75"/>
<circle cx="192.70" cy="726.30" r="1.6" fill="#ffffff" fill-opacity="0.7" stroke="#333333" stroke-width="0.75"/>
<circle cx="192.70" cy="730.50" r="1.6" fill="#ffffff" fill-opacity="0.7" stroke="#333333" stroke-width="0.75"/>
<circle cx="192.70" cy="734.30" r="1.6" fill="#ffffff" fill-opacity="0.7" stroke="#333333" stroke-width="0.75"/>
<path d="M190.40 754.30 L192.70 752.00 L195.00 754.30 L192.70 756.60 Z" fill="#111111"/>
<line x1="243.20" y1="737.80" x2="243.20" y2="766.50" stroke="#767676" stroke-width="1.15"/>
<rect x="228.82" y="745.30" width="28.75" height="11.50" fill="#fabf16"/>
<line x1="228.82" y1="749.30" x2="257.57" y2="749.30" stroke="#4f4010" stroke-width="1.7"/>
<path d="M240.90 751.00 L243.20 748.70 L245.50 751.00 L243.20 753.30 Z" fill="#111111"/>
<line x1="281.30" y1="746.00" x2="281.30" y2="766.50" stroke="#767676" stroke-width="1.15"/>
<rect x="266.93" y="750.30" width="28.75" height="8.50" fill="#fabf16"/>
<line x1="266.93" y1="755.00" x2="295.68" y2="755.00" stroke="#4f4010" stroke-width="1.7"/>
<circle cx="281.30" cy="733.30" r="1.6" fill="#ffffff" fill-opacity="0.7" stroke="#333333" stroke-width="0.75"/>
<path d="M279.00 755.00 L281.30 752.70 L283.60 755.00 L281.30 757.30 Z" fill="#111111"/>
<line x1="317.23" y1="766.50" x2="345.98" y2="766.50" stroke="#222222" stroke-width="1.7"/>
<circle cx="331.60" cy="736.60" r="1.6" fill="#ffffff" fill-opacity="0.7" stroke="#333333" stroke-width="0.75"/>
<circle cx="331.60" cy="737.40" r="1.6" fill="#ffffff" fill-opacity="0.7" stroke="#333333" stroke-width="0.75"/>
<circle cx="331.60" cy="745.00" r="1.6" fill="#ffffff" fill-opacity="0.7" stroke="#333333" stroke-width="0.75"/>
<circle cx="331.60" cy="754.00" r="1.6" fill="#ffffff" fill-opacity="0.7" stroke="#333333" stroke-width="0.75"/>
<path d="M329.30 764.50 L331.60 762.20 L333.90 764.50 L331.60 766.80 Z" fill="#111111"/>
<line x1="369.80" y1="724.80" x2="369.80" y2="766.50" stroke="#767676" stroke-width="1.15"/>
<rect x="355.43" y="737.80" width="28.75" height="14.50" fill="#39a4e0"/>
<line x1="355.43" y1="746.00" x2="384.18" y2="746.00" stroke="#17507a" stroke-width="1.7"/>
<circle cx="369.80" cy="711.80" r="1.6" fill="#ffffff" fill-opacity="0.7" stroke="#333333" stroke-width="0.75"/>
<path d="M367.50 744.30 L369.80 742.00 L372.10 744.30 L369.80 746.60 Z" fill="#111111"/>
<line x1="66.40" y1="770.50" x2="66.40" y2="774.00" stroke="#303030" stroke-width="1.1"/>
<text x="66.40" y="783.85" font-size="7.4" text-anchor="middle" textLength="22.24" lengthAdjust="spacingAndGlyphs" stroke="#333333" stroke-width="0.07">Clonal</text>
<line x1="104.30" y1="770.50" x2="104.30" y2="774.00" stroke="#303030" stroke-width="1.1"/>
<text x="104.30" y="783.85" font-size="7.4" text-anchor="middle" textLength="34.45" lengthAdjust="spacingAndGlyphs" stroke="#333333" stroke-width="0.07">Subclonal</text>
<line x1="154.80" y1="770.50" x2="154.80" y2="774.00" stroke="#303030" stroke-width="1.1"/>
<text x="154.80" y="783.85" font-size="7.4" text-anchor="middle" textLength="22.24" lengthAdjust="spacingAndGlyphs" stroke="#333333" stroke-width="0.07">Clonal</text>
<line x1="192.70" y1="770.50" x2="192.70" y2="774.00" stroke="#303030" stroke-width="1.1"/>
<text x="192.70" y="783.85" font-size="7.4" text-anchor="middle" textLength="34.45" lengthAdjust="spacingAndGlyphs" stroke="#333333" stroke-width="0.07">Subclonal</text>
<line x1="243.20" y1="770.50" x2="243.20" y2="774.00" stroke="#303030" stroke-width="1.1"/>
<text x="243.20" y="783.85" font-size="7.4" text-anchor="middle" textLength="22.24" lengthAdjust="spacingAndGlyphs" stroke="#333333" stroke-width="0.07">Clonal</text>
<line x1="281.30" y1="770.50" x2="281.30" y2="774.00" stroke="#303030" stroke-width="1.1"/>
<text x="281.30" y="783.85" font-size="7.4" text-anchor="middle" textLength="34.45" lengthAdjust="spacingAndGlyphs" stroke="#333333" stroke-width="0.07">Subclonal</text>
<line x1="331.60" y1="770.50" x2="331.60" y2="774.00" stroke="#303030" stroke-width="1.1"/>
<text x="331.60" y="783.85" font-size="7.4" text-anchor="middle" textLength="22.24" lengthAdjust="spacingAndGlyphs" stroke="#333333" stroke-width="0.07">Clonal</text>
<line x1="369.80" y1="770.50" x2="369.80" y2="774.00" stroke="#303030" stroke-width="1.1"/>
<text x="369.80" y="783.85" font-size="7.4" text-anchor="middle" textLength="34.45" lengthAdjust="spacingAndGlyphs" stroke="#333333" stroke-width="0.07">Subclonal</text>
<line x1="404.10" y1="713.40" x2="404.10" y2="722.20" stroke="#444444" stroke-width="0.9"/>
<rect x="400.10" y="714.70" width="8.00" height="6.20" fill="#36a835"/>
<line x1="400.10" y1="717.80" x2="408.10" y2="717.80" stroke="#1d641d" stroke-width="1.1"/>
<path d="M402.20 717.80 L404.10 715.90 L406.00 717.80 L404.10 719.70 Z" fill="#111111"/>
<text x="412.00" y="720.16" font-size="6.6" textLength="62.00" lengthAdjust="spacingAndGlyphs">Hypermutation (SBS9)</text>
<line x1="404.10" y1="723.70" x2="404.10" y2="732.50" stroke="#444444" stroke-width="0.9"/>
<rect x="400.10" y="725.00" width="8.00" height="6.20" fill="#c50529"/>
<line x1="400.10" y1="728.10" x2="408.10" y2="728.10" stroke="#650818" stroke-width="1.1"/>
<path d="M402.20 728.10 L404.10 726.20 L406.00 728.10 L404.10 730.00 Z" fill="#111111"/>
<text x="412.00" y="730.46" font-size="6.6" textLength="45.00" lengthAdjust="spacingAndGlyphs">APOBEC (SBS2)</text>
<line x1="404.10" y1="734.10" x2="404.10" y2="742.90" stroke="#444444" stroke-width="0.9"/>
<rect x="400.10" y="735.40" width="8.00" height="6.20" fill="#fabf16"/>
<line x1="400.10" y1="738.50" x2="408.10" y2="738.50" stroke="#4f4010" stroke-width="1.1"/>
<path d="M402.20 738.50 L404.10 736.60 L406.00 738.50 L404.10 740.40 Z" fill="#111111"/>
<text x="412.00" y="740.86" font-size="6.6" textLength="48.60" lengthAdjust="spacingAndGlyphs">APOBEC (SBS13)</text>
<line x1="404.10" y1="744.40" x2="404.10" y2="753.20" stroke="#444444" stroke-width="0.9"/>
<rect x="400.10" y="745.70" width="8.00" height="6.20" fill="#39a4e0"/>
<line x1="400.10" y1="748.80" x2="408.10" y2="748.80" stroke="#17507a" stroke-width="1.1"/>
<path d="M402.20 748.80 L404.10 746.90 L406.00 748.80 L404.10 750.70 Z" fill="#111111"/>
<text x="412.00" y="751.16" font-size="6.6" textLength="99.30" lengthAdjust="spacingAndGlyphs">Defective Mismatch Repair (SBS12)</text>
</g>
</g>
</svg>
</body>
</html>
